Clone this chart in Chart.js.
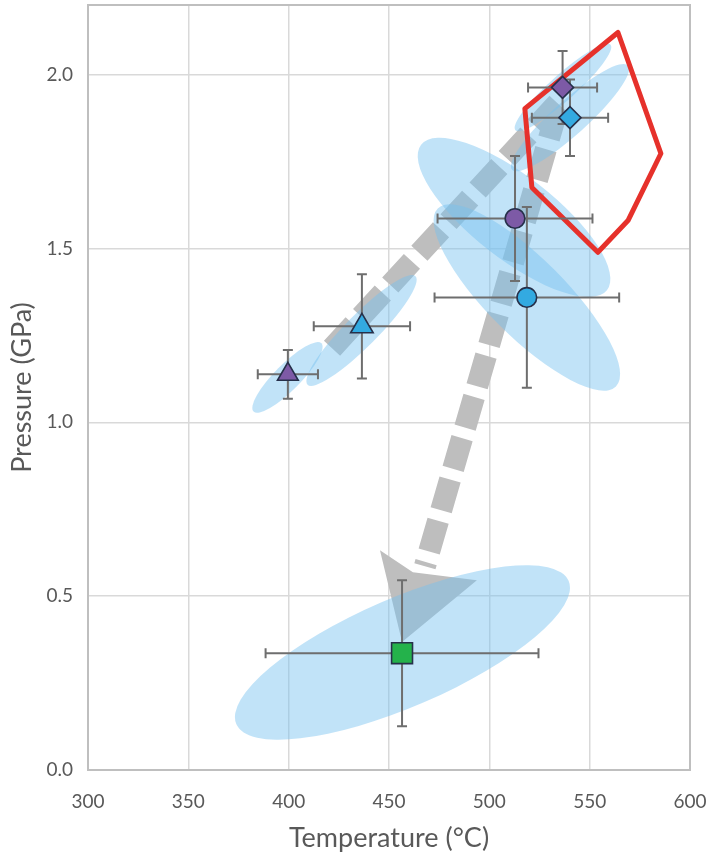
<!DOCTYPE html>
<html>
<head>
<meta charset="utf-8">
<script src="https://cdn.jsdelivr.net/npm/chart.js@4.4.1/dist/chart.umd.min.js"></script>
<style>
  html, body { margin: 0; padding: 0; background: #ffffff; }
  #wrap { width: 711px; height: 858px; }
</style>
</head>
<body>
<div id="wrap"><canvas id="pt" width="711" height="858"></canvas></div>
<script>
// Peak P–T estimates per sample (°C, GPa) with their uncertainties
const tempC       = [399.6, 436.5, 512.8, 518.7, 536.5, 540.2, 456.5];
const tempErr     = [15, 24, 38.6, 46, 17.2, 19, 68];
const pressureGPa = [1.138, 1.276, 1.586, 1.359, 1.963, 1.876, 0.336];
const pressureErr = [0.07, 0.15, 0.18, 0.26, 0.105, 0.11, 0.21];

// Axis ticks
const tempTicks     = [300, 350, 400, 450, 500, 550, 600];
const pressureTicks = [0, 0.5, 1.0, 1.5, 2.0];

// Uncertainty ellipses: centre, end of the major axis, minor/major ratio
const ellCenterT = [399.4, 436.3, 512.3, 518.7, 536.7, 540.2, 456.7];
const ellCenterP = [1.129, 1.264, 1.589, 1.359, 1.963, 1.876, 0.338];
const ellTipT    = [416.3, 463.2, 558.6, 563.1, 560.4, 569.1, 539.5];
const ellTipP    = [1.227, 1.420, 1.380, 1.103, 2.086, 2.026, 0.544];
const ellRatio   = [0.27, 0.21, 0.35, 0.31, 0.20, 0.22, 0.30];

// Stability field outline
const fieldT = [564.1, 585.5, 569.1, 554.1, 521.2, 517.7];
const fieldP = [2.121, 1.773, 1.580, 1.489, 1.675, 1.902];

// P–T path (dashed) and its arrowhead
const pathT = [421.6, 535.2, 467.9];
const pathP = [1.213, 1.925, 0.586];
const headT = [456.5, 445.5, 461.9, 493.8];
const headP = [0.368, 0.632, 0.569, 0.546];

// Marker styling per sample
const PURPLE = '#7d5aa6', BLUE = '#33aae1', GREEN = '#24b24b';
const markerStyle  = ['triangle', 'triangle', 'circle', 'circle', 'rectRot', 'rectRot', 'rect'];
const markerFill   = [PURPLE, BLUE, PURPLE, BLUE, PURPLE, BLUE, GREEN];
const markerRadius = [12, 13, 9.8, 9.8, 11, 11, 14.8];

const TEXT = '#595959';
Chart.defaults.font.family = 'Lato, "Liberation Sans", sans-serif';
Chart.defaults.color = TEXT;

function px(chart, t, p) {
  return [chart.scales.x.getPixelForValue(t), chart.scales.y.getPixelForValue(p)];
}

// keep the plot area fixed: no extra room reserved for overhanging tick labels
function fixScale(s, size) {
  if (s.isHorizontal()) s.height = size; else s.width = size;
  s.paddingTop = 0; s.paddingBottom = 0; s.paddingLeft = 0; s.paddingRight = 0;
}

const overlays = {
  id: 'overlays',
  beforeDatasetsDraw(chart) {
    const ctx = chart.ctx;
    const a = chart.chartArea;

    ctx.save();
    ctx.beginPath();
    ctx.rect(a.left, a.top, a.right - a.left, a.bottom - a.top);
    ctx.clip();

    // dashed P–T path
    ctx.strokeStyle = '#bebebe';
    ctx.lineWidth = 22;
    ctx.lineCap = 'butt';
    ctx.lineJoin = 'round';
    ctx.setLineDash([32, 11]);
    ctx.beginPath();
    pathT.forEach((t, i) => {
      const [x, y] = px(chart, t, pathP[i]);
      if (i === 0) ctx.moveTo(x, y); else ctx.lineTo(x, y);
    });
    ctx.stroke();
    ctx.setLineDash([]);

    // arrowhead
    ctx.fillStyle = '#bebebe';
    ctx.beginPath();
    headT.forEach((t, i) => {
      const [x, y] = px(chart, t, headP[i]);
      if (i === 0) ctx.moveTo(x, y); else ctx.lineTo(x, y);
    });
    ctx.closePath();
    ctx.fill();

    // uncertainty ellipses
    ctx.fillStyle = 'rgba(118, 194, 240, 0.45)';
    ellCenterT.forEach((t, i) => {
      const [cx, cy] = px(chart, t, ellCenterP[i]);
      const [tx, ty] = px(chart, ellTipT[i], ellTipP[i]);
      const major = Math.hypot(tx - cx, ty - cy);
      const ang = Math.atan2(ty - cy, tx - cx);
      ctx.beginPath();
      ctx.ellipse(cx, cy, major, major * ellRatio[i], ang, 0, Math.PI * 2);
      ctx.fill();
    });
    ctx.restore();

    // plot frame
    ctx.save();
    ctx.strokeStyle = '#bfbfbf';
    ctx.lineWidth = 2;
    ctx.strokeRect(a.left, a.top, a.right - a.left, a.bottom - a.top);
    ctx.restore();

    // stability field
    ctx.save();
    ctx.strokeStyle = '#e6312b';
    ctx.lineWidth = 5;
    ctx.lineJoin = 'round';
    ctx.beginPath();
    fieldT.forEach((t, i) => {
      const [x, y] = px(chart, t, fieldP[i]);
      if (i === 0) ctx.moveTo(x, y); else ctx.lineTo(x, y);
    });
    ctx.closePath();
    ctx.stroke();
    ctx.restore();

    // error bars
    ctx.save();
    ctx.strokeStyle = '#6e6e6e';
    ctx.lineWidth = 2;
    const cap = 5;
    tempC.forEach((t, i) => {
      const p = pressureGPa[i];
      const [x0] = px(chart, t - tempErr[i], p);
      const [x1] = px(chart, t + tempErr[i], p);
      const [xc, yc] = px(chart, t, p);
      const y0 = chart.scales.y.getPixelForValue(p - pressureErr[i]);
      const y1 = chart.scales.y.getPixelForValue(p + pressureErr[i]);
      ctx.beginPath();
      ctx.moveTo(x0, yc); ctx.lineTo(x1, yc);
      ctx.moveTo(x0, yc - cap); ctx.lineTo(x0, yc + cap);
      ctx.moveTo(x1, yc - cap); ctx.lineTo(x1, yc + cap);
      ctx.moveTo(xc, y0); ctx.lineTo(xc, y1);
      ctx.moveTo(xc - cap, y0); ctx.lineTo(xc + cap, y0);
      ctx.moveTo(xc - cap, y1); ctx.lineTo(xc + cap, y1);
      ctx.stroke();
    });
    ctx.restore();
  }
};

new Chart(document.getElementById('pt'), {
  type: 'scatter',
  data: {
    datasets: [{
      data: tempC.map((t, i) => ({ x: t, y: pressureGPa[i] })),
      pointStyle: markerStyle,
      backgroundColor: markerFill,
      borderColor: '#26304a',
      borderWidth: 1.6,
      pointRadius: markerRadius,
      clip: false
    }]
  },
  options: {
    responsive: false,
    animation: false,
    events: [],
    layout: { autoPadding: false, padding: { top: 5, right: 21, left: 0, bottom: 0 } },
    plugins: { legend: { display: false }, tooltip: { enabled: false } },
    scales: {
      x: {
        type: 'linear',
        min: tempTicks[0],
        max: tempTicks[tempTicks.length - 1],
        afterBuildTicks: s => { s.ticks = tempTicks.map(v => ({ value: v })); },
        afterFit: s => fixScale(s, 88),
        grid: { color: '#d9d9d9', lineWidth: 1.5, drawTicks: false },
        border: { display: false },
        ticks: { padding: 20, color: TEXT, font: { size: 19 }, maxRotation: 0 },
        title: {
          display: true,
          text: 'Temperature (°C)',
          color: TEXT,
          font: { size: 27 },
          padding: { top: 0, bottom: 4 }
        }
      },
      y: {
        type: 'linear',
        min: 0,
        max: 2.2,
        afterBuildTicks: s => { s.ticks = pressureTicks.map(v => ({ value: v })); },
        afterFit: s => fixScale(s, 88),
        grid: { color: '#d9d9d9', lineWidth: 1.5, drawTicks: false },
        border: { display: false },
        ticks: { padding: 15, color: TEXT, font: { size: 19 }, callback: v => Number(v).toFixed(1) },
        title: {
          display: true,
          text: 'Pressure (GPa)',
          color: TEXT,
          font: { size: 27 },
          padding: { top: 6, bottom: 0 }
        }
      }
    }
  },
  plugins: [overlays]
});
</script>
</body>
</html>
